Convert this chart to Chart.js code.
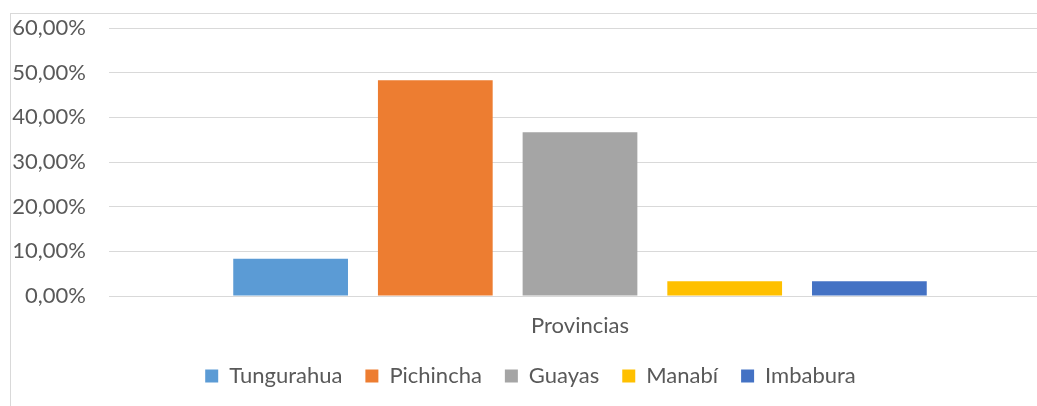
<!DOCTYPE html>
<html>
<head>
<meta charset="utf-8">
<script src="https://cdn.jsdelivr.net/npm/chart.js@4"></script>
<style>
  html, body { margin: 0; padding: 0; background: #fff; overflow: hidden; }
  #wrap { position: relative; width: 1037px; height: 406px; overflow: hidden; }
  #frame { position: absolute; left: 10px; top: 13px; width: 1060px; height: 420px; border: 1px solid #d9d9d9; box-sizing: border-box; }
  canvas { position: absolute; left: 0; top: 0; }
</style>
</head>
<body>
<div id="wrap">
  <div id="frame"></div>
  <canvas id="chart" width="1052" height="397"></canvas>
</div>
<script>
// datos
const categories = ["Provincias"];
const provincias = ["Tungurahua", "Pichincha", "Guayas", "Manabí", "Imbabura"];
const porcentajes = [0.0833, 0.4833, 0.3667, 0.0333, 0.0333];
const colores = ["#5B9BD5", "#ED7D31", "#A5A5A5", "#FFC000", "#4472C4"];
const yTicks = [0, 0.1, 0.2, 0.3, 0.4, 0.5, 0.6];

const textColor = "#595959";
const fontFamily = "Lato, 'Open Sans', sans-serif";

const ctx = document.getElementById("chart").getContext("2d");

const datasets = provincias.map((name, i) => ({
    label: name,
    data: [porcentajes[i]],
    backgroundColor: colores[i],
    borderWidth: 0,
    categoryPercentage: 0.768,
    barPercentage: 0.793
}));

new Chart(ctx, {
    type: "bar",
    data: { labels: categories, datasets },
    options: {
        responsive: false,
        animation: false,
        layout: { padding: { top: 28, right: 1, bottom: 0, left: 10 } },
        scales: {
            x: {
                afterFit: (scale) => { scale.height = 46; },
                grid: { display: false, drawTicks: false },
                border: { display: false },
                ticks: { color: textColor, font: { family: fontFamily, size: 22 }, padding: 17 }
            },
            y: {
                min: 0,
                max: 0.6,
                afterFit: (scale) => {
                    scale.width = 99;
                    scale.paddingTop = 0;
                    scale.paddingBottom = 0;
                },
                afterBuildTicks: (scale) => { scale.ticks = yTicks.map(v => ({ value: v })); },
                grid: { color: "#d9d9d9", lineWidth: 1, drawTicks: false },
                border: { display: false },
                ticks: {
                    color: textColor,
                    font: { family: fontFamily, size: 22 },
                    padding: 23,
                    callback: (v) => (v * 100).toFixed(2).replace(".", ",") + "%"
                }
            }
        },
        plugins: {
            tooltip: { enabled: false },
            legend: {
                position: "bottom",
                labels: {
                    color: textColor,
                    font: { family: fontFamily, size: 22 },
                    boxWidth: 13,
                    boxHeight: 13,
                    padding: 23
                }
            }
        }
    }
});
</script>
</body>
</html>
